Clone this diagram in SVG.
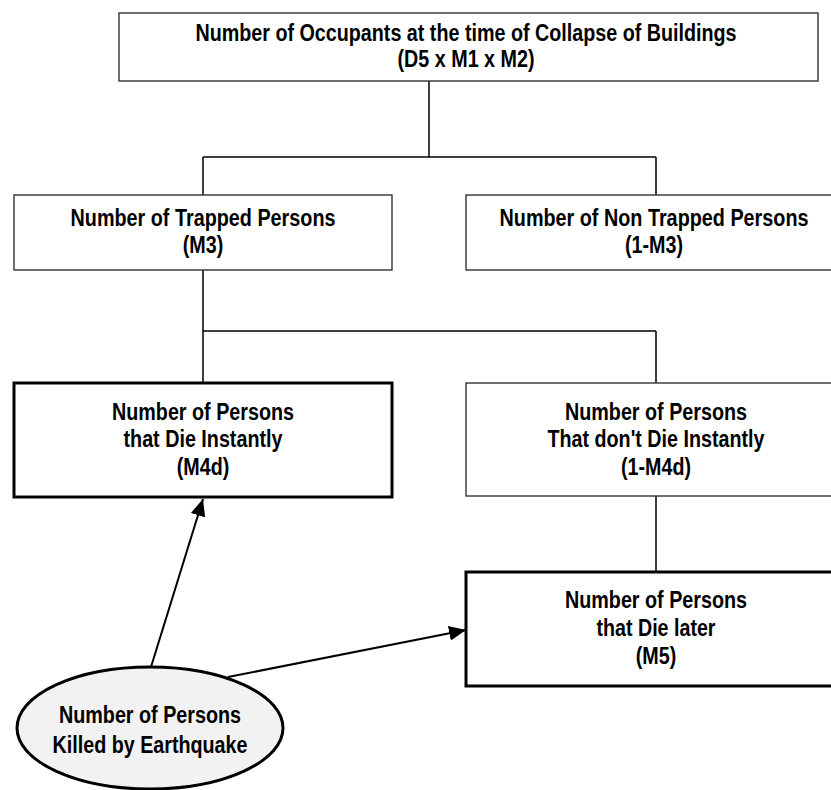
<svg xmlns="http://www.w3.org/2000/svg" width="831" height="790" viewBox="0 0 831 790">
<style>
.box{fill:#fff;stroke:#333;stroke-width:1.4}
.bold{fill:#fff;stroke:#000;stroke-width:3}
.ell{fill:#f2f2f2;stroke:#000;stroke-width:3}
.t{font-family:"Liberation Sans",Arial,sans-serif;font-weight:bold;font-size:23px;fill:#000;text-anchor:middle}
.c{fill:none;stroke:#000;stroke-width:1.5}
.a{fill:none;stroke:#000;stroke-width:2}
</style>
<defs>
<marker id="ah" viewBox="0 0 10 10" refX="10" refY="5" markerWidth="17" markerHeight="15" markerUnits="userSpaceOnUse" orient="auto" preserveAspectRatio="none">
<path d="M0,0 L10,5 L0,10 z" fill="#000"/>
</marker>
</defs>
<rect width="831" height="790" fill="#fff"/>
<g id="connectors">
<path class="c" d="M429,81 V157 M203,157 H656 M203,157 V195 M656,157 V195"/>
<path class="c" d="M203,270 V383 M203,331 H656 M656,331 V383"/>
<path class="c" d="M656,496 V572"/>
<line class="a" x1="151" y1="667" x2="203" y2="499" marker-end="url(#ah)"/>
<line class="a" x1="228" y1="677" x2="466" y2="630" marker-end="url(#ah)"/>
</g>
<g id="occupants">
<rect class="box" x="119" y="13" width="699" height="68"/>
<text class="t" x="466" y="41" textLength="541" lengthAdjust="spacingAndGlyphs">Number of Occupants at the time of Collapse of Buildings</text>
<text class="t" x="466" y="67" textLength="137" lengthAdjust="spacingAndGlyphs">(D5 x M1 x M2)</text>
</g>
<g id="trapped">
<rect class="box" x="14" y="195" width="378" height="75"/>
<text class="t" x="203" y="226" textLength="265" lengthAdjust="spacingAndGlyphs">Number of Trapped Persons</text>
<text class="t" x="203" y="253" textLength="40.5" lengthAdjust="spacingAndGlyphs">(M3)</text>
</g>
<g id="nontrapped">
<rect class="box" x="466" y="195" width="380" height="75"/>
<text class="t" x="654" y="226" textLength="309" lengthAdjust="spacingAndGlyphs">Number of Non Trapped Persons</text>
<text class="t" x="654" y="253" textLength="58" lengthAdjust="spacingAndGlyphs">(1-M3)</text>
</g>
<g id="dieInstantly">
<rect class="bold" x="14" y="383" width="378" height="114"/>
<text class="t" x="203" y="420" textLength="182" lengthAdjust="spacingAndGlyphs">Number of Persons</text>
<text class="t" x="203" y="447" textLength="159" lengthAdjust="spacingAndGlyphs">that Die Instantly</text>
<text class="t" x="203" y="475" textLength="52.5" lengthAdjust="spacingAndGlyphs">(M4d)</text>
</g>
<g id="notDieInstantly">
<rect class="box" x="466" y="383" width="380" height="113"/>
<text class="t" x="656" y="420" textLength="182" lengthAdjust="spacingAndGlyphs">Number of Persons</text>
<text class="t" x="656" y="447" textLength="217" lengthAdjust="spacingAndGlyphs">That don't Die Instantly</text>
<text class="t" x="656" y="475" textLength="70" lengthAdjust="spacingAndGlyphs">(1-M4d)</text>
</g>
<g id="dieLater">
<rect class="bold" x="466" y="572" width="380" height="114"/>
<text class="t" x="656" y="608" textLength="182" lengthAdjust="spacingAndGlyphs">Number of Persons</text>
<text class="t" x="656" y="636" textLength="119" lengthAdjust="spacingAndGlyphs">that Die later</text>
<text class="t" x="656" y="664" textLength="40.5" lengthAdjust="spacingAndGlyphs">(M5)</text>
</g>
<g id="killed">
<ellipse class="ell" cx="150" cy="728" rx="133" ry="61"/>
<text class="t" x="150" y="723" textLength="182" lengthAdjust="spacingAndGlyphs">Number of Persons</text>
<text class="t" x="150" y="753" textLength="195" lengthAdjust="spacingAndGlyphs">Killed by Earthquake</text>
</g>
</svg>
